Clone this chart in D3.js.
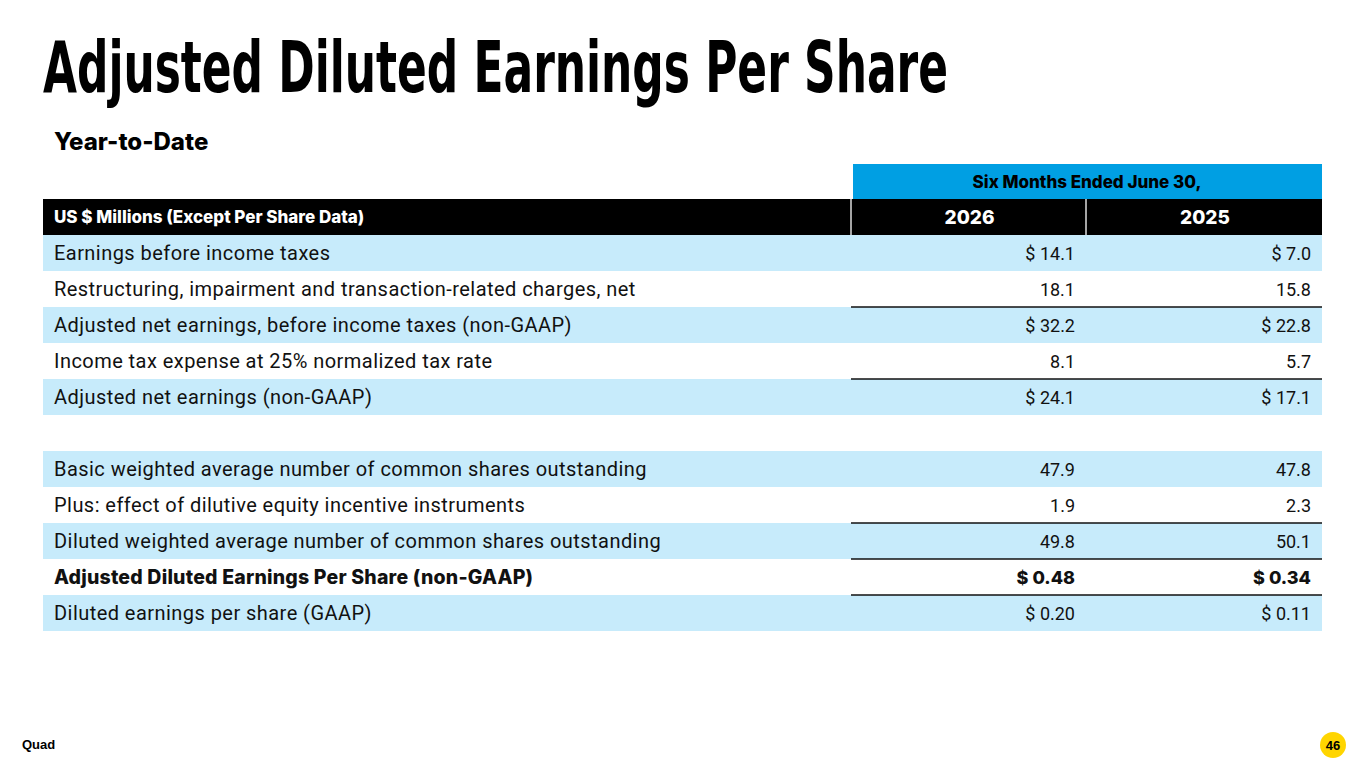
<!DOCTYPE html>
<html><head><meta charset="utf-8">
<script src="https://cdn.jsdelivr.net/npm/d3@7"></script>
<style>body{margin:0;background:#fff}</style>
</head><body>
<div id="vis"></div>
<script>
const labels = [
  "Earnings before income taxes",
  "Restructuring, impairment and transaction-related charges, net",
  "Adjusted net earnings, before income taxes (non-GAAP)",
  "Income tax expense at 25% normalized tax rate",
  "Adjusted net earnings (non-GAAP)",
  "",
  "Basic weighted average number of common shares outstanding",
  "Plus: effect of dilutive equity incentive instruments",
  "Diluted weighted average number of common shares outstanding",
  "Adjusted Diluted Earnings Per Share (non-GAAP)",
  "Diluted earnings per share (GAAP)"
];
const years = ["2026", "2025"];
const values2026 = ["$ 14.1", "18.1", "$ 32.2", "8.1", "$ 24.1", "", "47.9", "1.9", "49.8", "$ 0.48", "$ 0.20"];
const values2025 = ["$ 7.0", "15.8", "$ 22.8", "5.7", "$ 17.1", "", "47.8", "2.3", "50.1", "$ 0.34", "$ 0.11"];
const shaded = [1, 0, 1, 0, 1, 0, 1, 0, 1, 0, 1];
const ruleAbove = [2, 4, 8, 9, 10];
const boldRows = [9];

const W = 1365, H = 768;
const svg = d3.select("#vis").append("svg").attr("width", W).attr("height", H)
  .style("font-family", "Inter, Roboto, sans-serif");

// Title
svg.append("text").attr("x", 43).attr("y", 92)
  .attr("textLength", 905).attr("lengthAdjust", "spacingAndGlyphs")
  .style("font-family", "'Liberation Sans Narrow', 'DejaVu Sans Condensed', sans-serif")
  .style("font-weight", 700).style("font-size", "72px")
  .text("Adjusted Diluted Earnings Per Share");

svg.append("text").attr("x", 54).attr("y", 150)
  .style("font-weight", 800).style("font-size", "24px")
  .text("Year-to-Date");

// Columns
const x = d3.scaleOrdinal().domain(["label", ...years]).range([43, 853, 1088]);
const colW = { label: 808, "2026": 233, "2025": 234 };
const rowH = 36, tableTop = 235;
const y = d3.scaleBand().domain(d3.range(labels.length)).range([tableTop, tableTop + rowH * labels.length]);

// Header
svg.append("rect").attr("x", 853).attr("y", 164).attr("width", 469).attr("height", 35).attr("fill", "#009fe3");
svg.append("text").attr("x", 1087).attr("y", 188).attr("text-anchor", "middle")
  .style("font-weight", 800).style("font-size", "17px").text("Six Months Ended June 30,");
svg.append("rect").attr("x", 43).attr("y", 199).attr("width", 1279).attr("height", 36).attr("fill", "#000");
svg.append("text").attr("x", 54).attr("y", 223).attr("fill", "#fff")
  .style("font-weight", 800).style("font-size", "17px").text("US $ Millions (Except Per Share Data)");
[851, 1086].forEach(v => svg.append("line").attr("x1", v).attr("x2", v).attr("y1", 199).attr("y2", 235)
  .attr("stroke", "#ddd").attr("stroke-width", 1.5));
years.forEach(yr => svg.append("text").attr("x", x(yr) + colW[yr] / 2).attr("y", 224)
  .attr("text-anchor", "middle").attr("fill", "#fff")
  .style("font-weight", 800).style("font-size", "19px").text(yr));

// Rows
const rows = svg.append("g").selectAll("g").data(labels).join("g")
  .attr("transform", (d, i) => `translate(0,${y(i)})`);
rows.filter((d, i) => shaded[i]).append("rect")
  .attr("x", 43).attr("width", 1279).attr("height", y.bandwidth()).attr("fill", "#c7ebfb");
const isBold = i => boldRows.includes(i);
rows.append("text").attr("x", 54).attr("y", 25)
  .style("font-family", (d, i) => isBold(i) ? "Inter, sans-serif" : "Roboto, sans-serif")
  .style("font-size", (d, i) => isBold(i) ? "19.5px" : "20px")
  .style("letter-spacing", (d, i) => isBold(i) ? "0.2px" : "0.45px")
  .style("font-weight", (d, i) => isBold(i) ? 800 : 400)
  .attr("fill", "#111").text(d => d);
[values2026, values2025].forEach((vals, k) => {
  const yr = years[k];
  rows.append("text").attr("x", x(yr) + colW[yr] - 11).attr("y", 25).attr("text-anchor", "end")
    .style("font-family", (d, i) => isBold(i) ? "Inter, sans-serif" : "Roboto, sans-serif")
    .style("font-size", "18px").style("font-weight", (d, i) => isBold(i) ? 800 : 400)
    .attr("fill", "#111").text((d, i) => vals[i]);
});
svg.append("g").selectAll("line").data(ruleAbove).join("line")
  .attr("x1", 851).attr("x2", 1322).attr("y1", d => y(d)).attr("y2", d => y(d))
  .attr("stroke", "#111").attr("stroke-width", 1.5);

// Footer
svg.append("text").attr("x", 22).attr("y", 749)
  .style("font-family", "'Liberation Sans Narrow', sans-serif").style("font-weight", 700)
  .style("font-size", "13px").text("Quad");
svg.append("circle").attr("cx", 1333).attr("cy", 745).attr("r", 13).attr("fill", "#ffd500");
svg.append("text").attr("x", 1333).attr("y", 750).attr("text-anchor", "middle")
  .style("font-family", "'Liberation Sans Narrow', sans-serif").style("font-weight", 700)
  .style("font-size", "13px").text("46");
</script>
</body></html>
